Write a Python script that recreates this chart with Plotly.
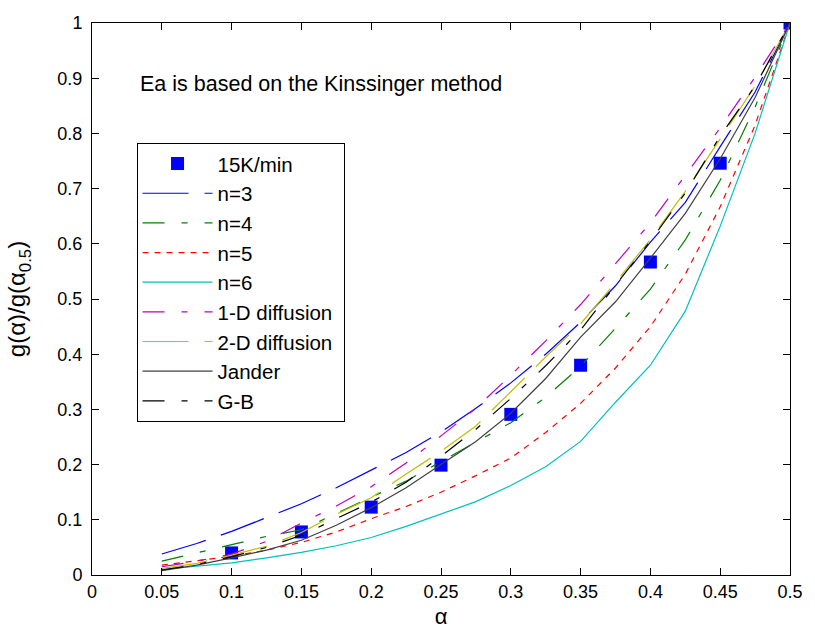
import plotly.graph_objects as go

# conversion fraction at which each model curve is evaluated
alpha = [0.05, 0.075, 0.1, 0.125, 0.15, 0.175, 0.2, 0.225, 0.25, 0.275,
         0.3, 0.325, 0.35, 0.375, 0.4, 0.425, 0.45, 0.475, 0.5]

# normalised g(alpha)/g(alpha_0.5) for each kinetic model
n3 = [0.038, 0.057, 0.079, 0.104, 0.129, 0.158, 0.190, 0.222, 0.259, 0.302,
      0.348, 0.400, 0.458, 0.524, 0.603, 0.675, 0.776, 0.875, 1.0]
n4 = [0.025, 0.040, 0.054, 0.070, 0.082, 0.112, 0.141, 0.170, 0.205, 0.240,
      0.276, 0.322, 0.378, 0.447, 0.518, 0.607, 0.715, 0.848, 1.0]
n5 = [0.018, 0.026, 0.034, 0.045, 0.059, 0.078, 0.102, 0.124, 0.150, 0.180,
      0.212, 0.258, 0.311, 0.375, 0.450, 0.545, 0.667, 0.815, 1.0]
n6 = [0.010, 0.016, 0.022, 0.031, 0.041, 0.053, 0.068, 0.088, 0.111, 0.133,
      0.162, 0.196, 0.242, 0.313, 0.380, 0.478, 0.632, 0.800, 1.0]
diff1d = [0.015, 0.025, 0.038, 0.061, 0.094, 0.125, 0.160, 0.203, 0.252, 0.302,
          0.362, 0.424, 0.490, 0.565, 0.638, 0.724, 0.810, 0.902, 1.0]
diff2d = [0.012, 0.021, 0.036, 0.052, 0.077, 0.110, 0.140, 0.183, 0.224, 0.270,
          0.332, 0.395, 0.455, 0.530, 0.608, 0.695, 0.790, 0.886, 1.0]
jander = [0.008, 0.018, 0.031, 0.045, 0.063, 0.090, 0.122, 0.158, 0.200, 0.242,
          0.293, 0.356, 0.431, 0.495, 0.574, 0.655, 0.754, 0.865, 1.0]
gb = [0.009, 0.019, 0.033, 0.050, 0.072, 0.102, 0.132, 0.168, 0.215, 0.264,
      0.320, 0.379, 0.444, 0.525, 0.605, 0.692, 0.795, 0.886, 1.0]

# experimental points at 15 K/min
exp_alpha = [0.1, 0.15, 0.2, 0.25, 0.3, 0.35, 0.4, 0.45, 0.5]
exp_ratio = [0.040, 0.078, 0.123, 0.199, 0.291, 0.380, 0.567, 0.746, 1.0]

x_ticks = [0, 0.05, 0.1, 0.15, 0.2, 0.25, 0.3, 0.35, 0.4, 0.45, 0.5]
x_tick_text = ["0", "0.05", "0.1", "0.15", "0.2", "0.25", "0.3", "0.35", "0.4", "0.45", "0.5"]
y_ticks = [0, 0.1, 0.2, 0.3, 0.4, 0.5, 0.6, 0.7, 0.8, 0.9, 1]
y_tick_text = ["0", "0.1", "0.2", "0.3", "0.4", "0.5", "0.6", "0.7", "0.8", "0.9", "1"]

FONT = "Liberation Sans, Arial, sans-serif"
LONG_SHORT = "22px,17px,6px,17px"
LONG_GAP = "46px,16px"
NBSP = "\u00a0"

fig = go.Figure()

fig.add_trace(go.Scatter(
    x=exp_alpha, y=exp_ratio, mode="markers", name="15K/min",
    marker=dict(symbol="square", size=13, color="#0000ff", line=dict(width=0)),
))

curves = [
    ("n=3", n3, "#0000ff", LONG_GAP),
    ("n=4", n4, "#008000", LONG_SHORT),
    ("n=5", n5, "#ff0000", "6px,6px"),
    ("n=6", n6, "#00bfbf", "solid"),
    ("1-D diffusion" + NBSP, diff1d, "#bf00bf", LONG_SHORT),
    ("2-D diffusion" + NBSP, diff2d, "#bfbf00", LONG_GAP),
    ("Jander", jander, "#404040", "solid"),
    ("G-B", gb, "#000000", LONG_SHORT),
]
for name, vals, color, dash in curves:
    fig.add_trace(go.Scatter(
        x=alpha, y=vals, mode="lines", name=name,
        line=dict(color=color, width=1.2, dash=dash),
    ))

fig.add_annotation(
    x=0.033, y=0.889, xref="x", yref="y", xanchor="left", yanchor="middle",
    text="Ea is based on the Kinssinger method", showarrow=False,
    font=dict(family=FONT, size=21.5, color="black"),
)

axis_common = dict(
    showgrid=False, zeroline=False, showline=True, linecolor="black", linewidth=1,
    mirror="ticks", ticks="inside", ticklen=7, tickwidth=1, tickcolor="black",
    tickfont=dict(family=FONT, size=18, color="black"),
)

# a trailing no-break space keeps the y labels a little clear of the axis line
y_tick_labels = [t + NBSP for t in y_tick_text]

fig.update_layout(
    width=815, height=637,
    margin=dict(l=92, r=18, t=23, b=57),
    paper_bgcolor="white", plot_bgcolor="white",
    font=dict(family=FONT, color="black"),
    showlegend=True,
    legend=dict(
        x=0.0638, y=0.783, xanchor="left", yanchor="top",
        bgcolor="white", bordercolor="black", borderwidth=1,
        font=dict(family=FONT, size=20.5, color="black"),
        itemwidth=70, tracegroupgap=0,
    ),
    xaxis=dict(range=[0, 0.5], tickvals=x_ticks, ticktext=x_tick_text,
               title=dict(text="α", font=dict(family=FONT, size=22), standoff=8),
               **axis_common),
    yaxis=dict(range=[0, 1], tickvals=y_ticks, ticktext=y_tick_labels,
               title=dict(text="g(α)/g(α<sub>0.5</sub>)", font=dict(family=FONT, size=24), standoff=24),
               **axis_common),
)

fig.write_html("out.html")
